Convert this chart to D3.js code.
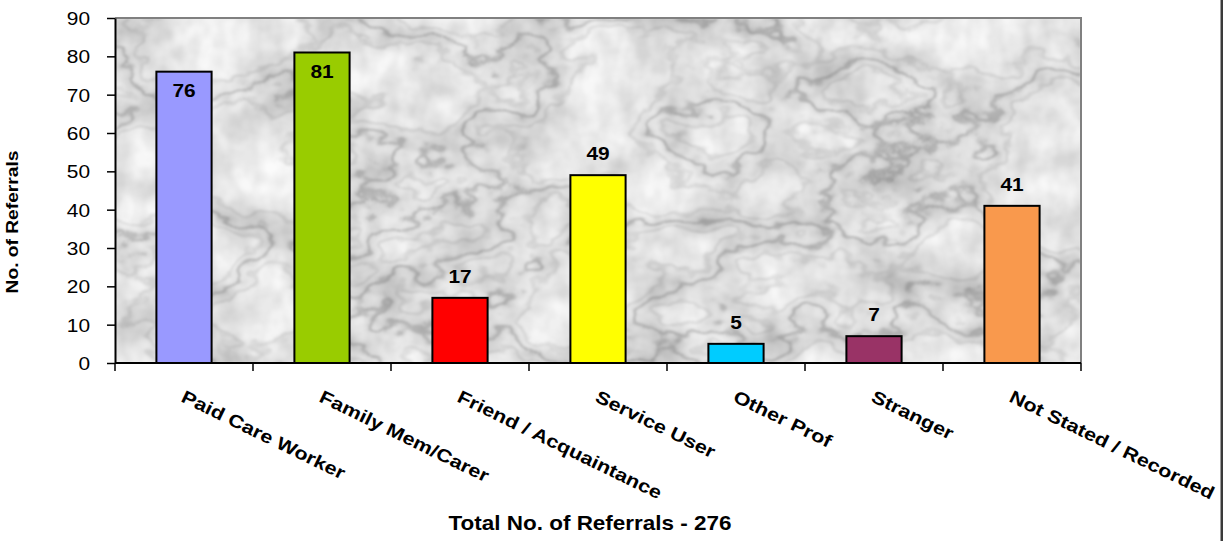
<!DOCTYPE html>
<html>
<head>
<meta charset="utf-8">
<script src="https://cdn.jsdelivr.net/npm/d3@7"></script>
<style>
  html, body { margin: 0; padding: 0; background: #fff; }
  svg { display: block; }
  text { font-family: "Liberation Sans", Arial, sans-serif; fill: #000; }
</style>
</head>
<body>
<svg id="chart" width="1223" height="541"></svg>
<script>
// Referral sources
const categories = ["Paid Care Worker", "Family Mem/Carer", "Friend / Acquaintance",
  "Service User", "Other Prof", "Stranger", "Not Stated / Recorded"];
const referrals = [76, 81, 17, 49, 5, 7, 41];
const barColors = ["#9999FF", "#99CC00", "#FF0000", "#FFFF00", "#00CCFF", "#993366", "#F9994D"];
const yTickValues = [0, 10, 20, 30, 40, 50, 60, 70, 80, 90];
const yTitle = "No. of Referrals";
const xTitle = "Total No. of Referrals - " + d3.sum(referrals);

const W = 1223, H = 541;
const plot = { left: 115, right: 1081, top: 18, bottom: 363 };
const SX = 1.16; // wide lettering

const svg = d3.select("#chart");
const defs = svg.append("defs");

const grayMatrix = "1 0 0 0 0  1 0 0 0 0  1 0 0 0 0  0 0 0 0 1";
function grayTable(parent, input, result, table) {
  const ct = parent.append("feComponentTransfer").attr("in", input).attr("result", result);
  ["feFuncR", "feFuncG", "feFuncB"].forEach(k => ct.append(k).attr("type", "table").attr("tableValues", table));
}

// Marble texture: faint veins, soft grey clouds and a fine grain, multiplied together
const f = defs.append("filter").attr("id", "marble")
  .attr("x", 0).attr("y", 0).attr("width", "100%").attr("height", "100%")
  .attr("color-interpolation-filters", "sRGB");
f.append("feTurbulence").attr("type", "fractalNoise")
  .attr("baseFrequency", "0.006 0.009").attr("numOctaves", 5).attr("seed", 11).attr("result", "n1");
f.append("feColorMatrix").attr("in", "n1").attr("type", "matrix").attr("values", grayMatrix).attr("result", "g1");
const veinTable = d3.range(0, 1.0001, 0.005).map(t => {
  const v = 0.985
    - 0.17 * Math.exp(-Math.pow((t - 0.50) / 0.013, 2))
    - 0.09 * Math.exp(-Math.pow((t - 0.42) / 0.015, 2))
    - 0.09 * Math.exp(-Math.pow((t - 0.59) / 0.015, 2))
    - 0.07 * Math.exp(-Math.pow((t - 0.50) / 0.07, 2));
  return v.toFixed(3);
}).join(" ");
grayTable(f, "g1", "veins", veinTable);

f.append("feTurbulence").attr("type", "fractalNoise")
  .attr("baseFrequency", "0.016 0.02").attr("numOctaves", 4).attr("seed", 4).attr("result", "n2");
f.append("feColorMatrix").attr("in", "n2").attr("type", "matrix").attr("values", grayMatrix).attr("result", "g2");
grayTable(f, "g2", "clouds", "0.80 0.85 0.90 0.95 0.985 1 1");

f.append("feTurbulence").attr("type", "fractalNoise")
  .attr("baseFrequency", "0.06 0.04").attr("numOctaves", 2).attr("seed", 23).attr("result", "n3");
f.append("feColorMatrix").attr("in", "n3").attr("type", "matrix").attr("values", grayMatrix).attr("result", "g3");
grayTable(f, "g3", "grain", "0.90 0.95 1 1");

f.append("feBlend").attr("in", "veins").attr("in2", "clouds").attr("mode", "multiply").attr("result", "m1");
f.append("feBlend").attr("in", "m1").attr("in2", "grain").attr("mode", "multiply").attr("result", "m2");
f.append("feGaussianBlur").attr("in", "m2").attr("stdDeviation", 1.0);

// Scales
const x = d3.scaleBand().domain(categories)
  .range([plot.left, plot.right]).paddingInner(0.6).paddingOuter(0.3);
const y = d3.scaleLinear().domain([0, 90]).range([plot.bottom, plot.top]);
const step = x.step();

// Plot background
svg.append("rect")
  .attr("x", plot.left).attr("y", plot.top)
  .attr("width", plot.right - plot.left).attr("height", plot.bottom - plot.top)
  .attr("fill", "#eee").attr("filter", "url(#marble)");

// Plot frame (top and right)
svg.append("path")
  .attr("d", `M${plot.left},${plot.top}H${plot.right}V${plot.bottom}`)
  .attr("fill", "none").attr("stroke", "#808080").attr("stroke-width", 2);

// Bars
svg.append("g").selectAll("rect").data(categories).join("rect")
  .attr("x", d => x(d)).attr("width", x.bandwidth())
  .attr("y", (d, i) => y(referrals[i]))
  .attr("height", (d, i) => y(0) - y(referrals[i]))
  .attr("fill", (d, i) => barColors[i])
  .attr("stroke", "#000").attr("stroke-width", 2);

// Value labels: above the bar, or inside the top when it would reach the frame
svg.append("g").selectAll("text").data(categories).join("text")
  .attr("transform", (d, i) => {
    const v = referrals[i];
    const top = y(v);
    const yy = (v > 70) ? top + 25 : top - 15;
    return `translate(${x(d) + x.bandwidth() / 2},${yy}) scale(${SX},1)`;
  })
  .attr("text-anchor", "middle")
  .attr("font-weight", "bold").attr("font-size", 18)
  .text((d, i) => referrals[i]);

// Y axis
const yAxis = svg.append("g").attr("transform", `translate(${plot.left},0)`)
  .call(d3.axisLeft(y).tickValues(yTickValues).tickSize(8).tickSizeOuter(0).tickPadding(17));
yAxis.select(".domain").attr("stroke", "#000").attr("stroke-width", 2);
yAxis.selectAll(".tick line").attr("stroke", "#000").attr("stroke-width", 1.5);
yAxis.selectAll(".tick text")
  .attr("font-size", 18).attr("font-family", "Liberation Sans, Arial, sans-serif")
  .attr("fill", "#000").attr("dy", "0.36em")
  .attr("transform", `translate(-25,0) scale(${SX},1) translate(25,0)`);

// X axis line with ticks at category boundaries
const xAxis = svg.append("g");
xAxis.append("line")
  .attr("x1", plot.left).attr("x2", plot.right)
  .attr("y1", plot.bottom).attr("y2", plot.bottom)
  .attr("stroke", "#000").attr("stroke-width", 2);
const bounds = categories.map(c => x(c) - step * x.paddingOuter()).concat([plot.right]);
xAxis.selectAll("line.tick").data(bounds).join("line").attr("class", "tick")
  .attr("x1", d => d).attr("x2", d => d)
  .attr("y1", plot.bottom).attr("y2", plot.bottom + 8)
  .attr("stroke", "#000").attr("stroke-width", 1.5);

// Slanted category labels
xAxis.selectAll("text").data(categories).join("text")
  .attr("transform", d => `translate(${x(d) + x.bandwidth() / 2 - 4},${plot.bottom + 38}) rotate(26) scale(1.2,1)`)
  .attr("font-weight", "bold").attr("font-size", 18)
  .text(d => d);

// Axis titles
svg.append("text")
  .attr("transform", `translate(18,222) rotate(-90) scale(1.2,1)`)
  .attr("text-anchor", "middle")
  .attr("font-weight", "bold").attr("font-size", 16)
  .text(yTitle);
svg.append("text")
  .attr("transform", `translate(590,530) scale(1.125,1)`)
  .attr("text-anchor", "middle")
  .attr("font-weight", "bold").attr("font-size", 20)
  .text(xTitle);

// Right-hand edge rule
svg.append("rect").attr("x", 1220.5).attr("y", 0).attr("width", 2.5).attr("height", H).attr("fill", "#3a3a3a");
</script>
</body>
</html>
